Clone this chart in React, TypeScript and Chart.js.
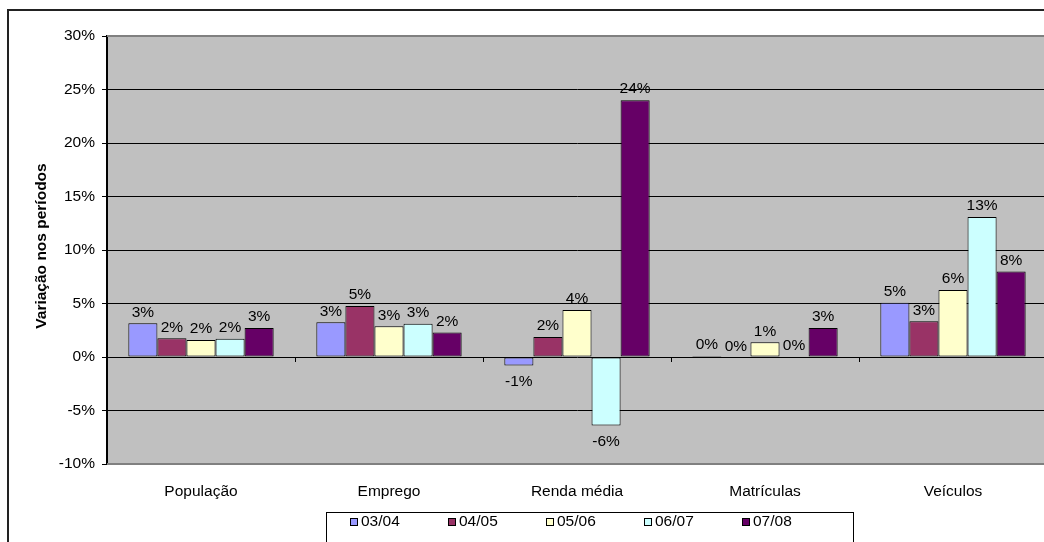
import React, { useEffect, useRef } from "react";
import { Chart, registerables } from "chart.js";

Chart.register(...registerables);

const categories = ["População", "Emprego", "Renda média", "Matrículas", "Veículos"];
const seriesLabels = ["03/04", "04/05", "05/06", "06/07", "07/08"];
const s0304 = [3.15, 3.25, -0.8, 0.1, 5.07];
const s0405 = [1.75, 4.77, 1.87, -0.1, 3.33];
const s0506 = [1.6, 2.87, 4.4, 1.37, 6.26];
const s0607 = [1.7, 3.1, -6.4, 0.0, 13.08];
const s0708 = [2.7, 2.3, 24.0, 2.7, 8.0];
const seriesValues = [s0304, s0405, s0506, s0607, s0708];
const seriesColors = ["#9999FF", "#993366", "#FFFFCC", "#CCFFFF", "#660066"];
const yMin = -10;
const yMax = 30;
const yStep = 5;
const axisTitle = "Variação nos períodos";

const FONT = "'Liberation Sans', Arial, sans-serif";
const FS = 15.5;

const decorPlugin = {
  id: "decor",
  beforeDraw(chart: any) {
    const { ctx, chartArea } = chart;
    ctx.save();
    ctx.fillStyle = "#ffffff";
    ctx.fillRect(0, 0, chart.width, chart.height);
    ctx.fillStyle = "#C0C0C0";
    ctx.fillRect(chartArea.left, chartArea.top, chartArea.right - chartArea.left, chartArea.bottom - chartArea.top);
    ctx.restore();
  },
  afterDatasetsDraw(chart: any) {
    const { ctx, chartArea } = chart;
    const xs = chart.scales.x;
    const ys = chart.scales.y;
    ctx.save();
    // plot border top/bottom gray
    ctx.strokeStyle = "#808080";
    ctx.lineWidth = 2;
    ctx.beginPath();
    ctx.moveTo(chartArea.left, chartArea.top);
    ctx.lineTo(chartArea.right + 5, chartArea.top);
    ctx.moveTo(chartArea.left, chartArea.bottom);
    ctx.lineTo(chartArea.right + 5, chartArea.bottom);
    ctx.stroke();
    // left axis line
    ctx.strokeStyle = "#000";
    ctx.lineWidth = 1;
    ctx.beginPath();
    ctx.moveTo(Math.round(chartArea.left) - 0.5, chartArea.top - 1);
    ctx.lineTo(Math.round(chartArea.left) - 0.5, chartArea.bottom + 1);
    ctx.stroke();
    // category tick marks at zero line
    const y0 = Math.round(ys.getPixelForValue(0));
    ctx.beginPath();
    for (let i = 1; i < categories.length; i++) {
      const bx = Math.round((xs.getPixelForTick(i - 1) + xs.getPixelForTick(i)) / 2) + 0.5;
      ctx.moveTo(bx, y0);
      ctx.lineTo(bx, y0 + 5);
    }
    ctx.stroke();
    // data labels
    ctx.fillStyle = "#000";
    ctx.font = `${FS}px ${FONT}`;
    ctx.textAlign = "center";
    ctx.textBaseline = "middle";
    chart.data.datasets.forEach((ds: any, di: number) => {
      const meta = chart.getDatasetMeta(di);
      meta.data.forEach((el: any, i: number) => {
        const v = ds.data[i];
        const r = Math.round(v);
        const txt = `${r === 0 ? 0 : r}%`;
        const ty = r < 0 ? el.y + 16 : el.y - 11;
        ctx.fillText(txt, el.x, ty);
      });
    });
    ctx.restore();
  },
  afterDraw(chart: any) {
    const { ctx, chartArea } = chart;
    ctx.save();
    // axis title
    ctx.fillStyle = "#000";
    ctx.font = `bold ${FS}px ${FONT}`;
    ctx.textAlign = "center";
    ctx.textBaseline = "middle";
    ctx.translate(42, (chartArea.top + chartArea.bottom) / 2 - 4);
    ctx.rotate(-Math.PI / 2);
    ctx.fillText(axisTitle, 0, 0);
    ctx.restore();

    ctx.save();
    // outer frame
    ctx.strokeStyle = "#222";
    ctx.lineWidth = 2;
    ctx.strokeRect(8, 10, 2000, 2000);
    // legend
    ctx.lineWidth = 1;
    ctx.strokeStyle = "#000";
    ctx.strokeRect(326.5, 512.5, 527, 40);
    ctx.font = `${FS}px ${FONT}`;
    ctx.textAlign = "left";
    ctx.textBaseline = "middle";
    chart.data.datasets.forEach((ds: any, i: number) => {
      const sx = 350 + i * 98;
      ctx.fillStyle = ds.backgroundColor;
      ctx.fillRect(sx, 518, 7, 7);
      ctx.strokeRect(sx + 0.5, 518.5, 7, 7);
      ctx.fillStyle = "#000";
      ctx.fillText(ds.label, sx + 11, 522);
    });
    ctx.restore();
  },
};

export default function App() {
  const ref = useRef<HTMLCanvasElement | null>(null);
  useEffect(() => {
    if (!ref.current) return;
    const chart = new Chart(ref.current, {
      type: "bar",
      data: {
        labels: categories,
        datasets: seriesLabels.map((label, i) => ({
          label,
          data: seriesValues[i],
          backgroundColor: seriesColors[i],
          borderColor: "#000",
          borderWidth: 1,
          borderSkipped: false,
          categoryPercentage: 0.773,
          barPercentage: 1.0,
        })),
      },
      options: {
        responsive: false,
        animation: false,
        devicePixelRatio: 1,
        layout: { padding: { top: 36, right: 13, left: 0, bottom: 0 } },
        plugins: {
          legend: { display: false },
          tooltip: { enabled: false },
          title: { display: false },
        },
        scales: {
          x: {
            grid: { display: false, drawTicks: false },
            border: { display: false },
            ticks: {
              color: "#000",
              font: { family: FONT, size: FS },
              padding: 18,
              maxRotation: 0,
              autoSkip: false,
            },
            afterFit(scale: any) {
              scale.height = 96;
            },
          },
          y: {
            min: yMin,
            max: yMax,
            grid: { color: "#000", lineWidth: 1, tickLength: 5, tickColor: "#000" },
            border: { display: true, color: "#000" },
            ticks: {
              stepSize: yStep,
              color: "#000",
              padding: 7,
              font: { family: FONT, size: FS },
              callback: (v: any) => `${v}%`,
            },
            afterFit(scale: any) {
              scale.width = 107;
            },
          },
        },
      },
      plugins: [decorPlugin],
    });
    return () => chart.destroy();
  }, []);
  return (
    <div style={{ position: "fixed", left: 0, top: 0, width: 1044, height: 542, overflow: "hidden", background: "#fff" }}>
      <canvas ref={ref} width={1060} height={560} style={{ display: "block", width: 1060, height: 560 }} />
    </div>
  );
}
